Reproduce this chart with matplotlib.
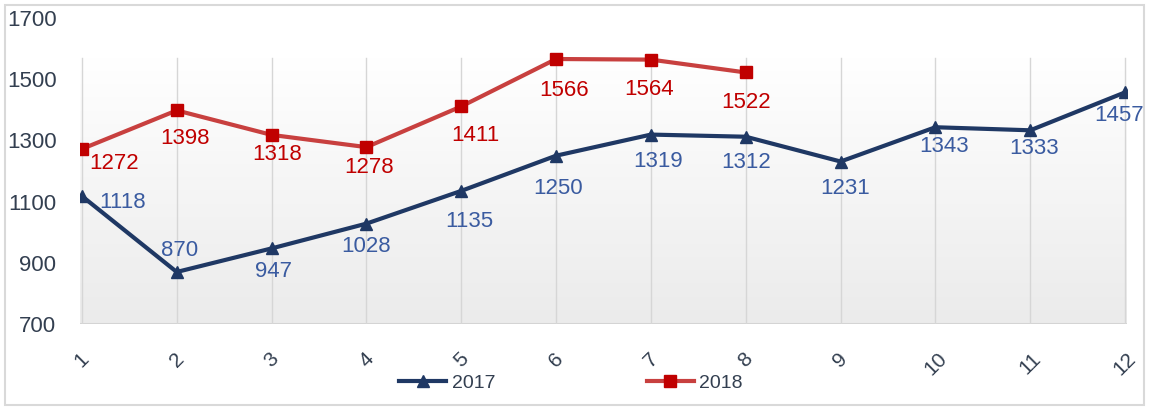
import numpy as np
import matplotlib.pyplot as plt
from matplotlib.colors import LinearSegmentedColormap
from matplotlib.patches import Rectangle

months = list(range(1, 13))
sales_2017 = [1118, 870, 947, 1028, 1135, 1250, 1319, 1312, 1231, 1343, 1333, 1457]
sales_2018 = [1272, 1398, 1318, 1278, 1411, 1566, 1564, 1522]
y_ticks = [700, 900, 1100, 1300, 1500, 1700]

# label offsets in pixels (dx, dy); positive dx on first point = left aligned
off_2017 = [(17, -6), (3, 21), (2, -23), (0, -23), (8, -31), (2, -33),
            (7, -27), (0, -26), (5, -27), (9, -19), (4, -18), (-6, -23)]
off_2018 = [(7, -15), (8, -28), (6, -20), (3, -20), (14, -29), (8, -31), (-2, -30), (0, -30)]
PX = 0.72  # px -> pt at dpi 100

plt.rcParams['font.family'] = ['Liberation Sans', 'DejaVu Sans']

fig = plt.figure(figsize=(11.49, 4.09), dpi=100)
ax = fig.add_axes([80 / 1149, 1 - 324 / 409, (1127 - 80) / 1149, (324 - 18) / 409])
ax.set_xlim(0.98, 12.02)
ax.set_ylim(700, 1700)

# gradient wall, white at top to light grey at bottom
grad = np.linspace(0, 1, 256).reshape(-1, 1)
wall = LinearSegmentedColormap.from_list('wall', ['#ffffff', '#ebebeb'])
ax.imshow(grad, extent=[0.98, 12.02, 700, 1570], aspect='auto', origin='upper',
          cmap=wall, zorder=0)
ax.axhline(700, color='#d4d4d4', lw=1.5, zorder=1)
for m in months:
    ax.plot([m, m], [700, 1570], color='#d6d6d6', lw=1, zorder=1)

ax.plot(months, sales_2017, color='#1f3864', lw=3, marker='^', ms=9,
        markerfacecolor='#1f3864', markeredgecolor='#1f3864', label='2017', zorder=3)
ax.plot(months[:len(sales_2018)], sales_2018, color='#c8403f', lw=3, marker='s', ms=9,
        markerfacecolor='#c00000', markeredgecolor='#c00000', label='2018', zorder=3)

for i, (x, y) in enumerate(zip(months, sales_2017)):
    dx, dy = off_2017[i]
    ax.annotate(str(y), (x, y), xytext=(dx * PX, dy * PX), textcoords='offset points',
                ha='left' if i == 0 else 'center', va='center', fontsize=16,
                color='#3a5ba0', zorder=4)
for i, (x, y) in enumerate(zip(months, sales_2018)):
    dx, dy = off_2018[i]
    ax.annotate(str(y), (x, y), xytext=(dx * PX, dy * PX), textcoords='offset points',
                ha='left' if i == 0 else 'center', va='center', fontsize=16,
                color='#c00000', zorder=4)

ax.set_yticks(y_ticks)
ax.set_yticklabels([str(t) for t in y_ticks], fontsize=16, color='#333f50')
ax.set_xticks(months)
ax.set_xticklabels([str(m) for m in months], rotation=45, fontsize=15, color='#333f50')
ax.tick_params(axis='y', length=0, pad=17)
ax.tick_params(axis='x', length=0, pad=18)
for s in ax.spines.values():
    s.set_visible(False)

fig.legend(loc='lower center', bbox_to_anchor=(0.497, 0.0), ncol=2, frameon=False,
           fontsize=14, columnspacing=7.8, handlelength=2.4, handletextpad=0.3,
           labelcolor='#333f50')

fig.patches.append(Rectangle((5 / 1149, 4 / 409), 1139 / 1149, 400 / 409, transform=fig.transFigure,
                             fill=False, edgecolor='#d9d9d9', lw=1.5))

fig.savefig('out.png', dpi=100)
